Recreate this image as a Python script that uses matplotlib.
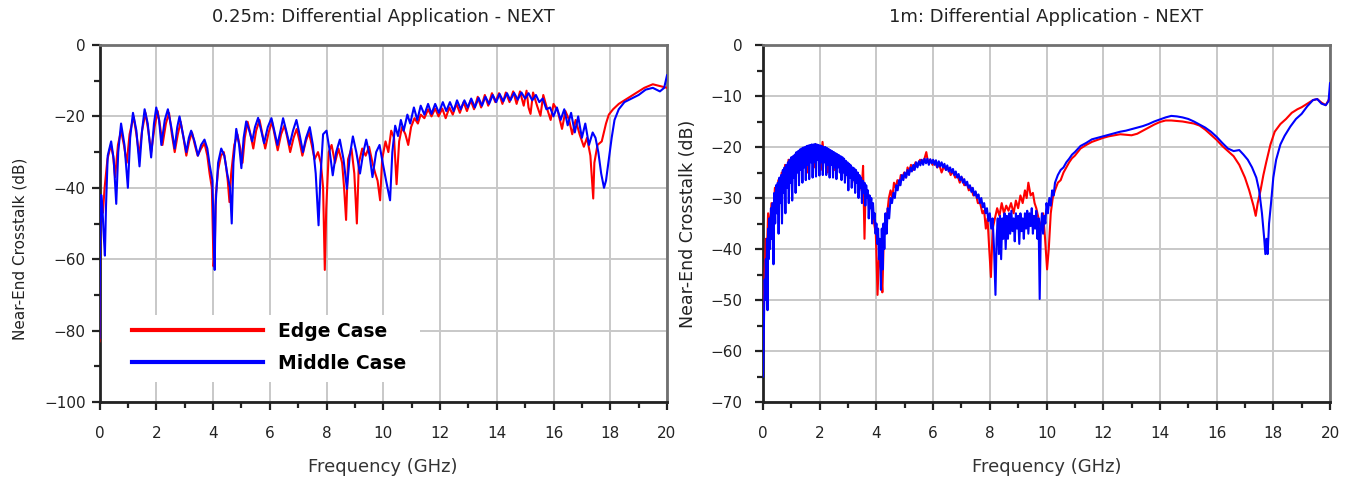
import matplotlib
matplotlib.use("Agg")
import matplotlib.pyplot as plt
from matplotlib.ticker import MultipleLocator
from matplotlib.patches import Rectangle

# ---------------- data (frequency GHz, NEXT dB) ----------------
left_titles = "0.25m: Differential Application - NEXT"
right_titles = "1m: Differential Application - NEXT"
series_names = ["Edge Case", "Middle Case"]
series_colors = ["#ff0000", "#0000ff"]

left_edge = [
(0.00,-83),(0.03,-48),(0.08,-44),(0.12,-47),(0.18,-40),(0.28,-32),(0.40,-28),(0.48,-31),(0.55,-37),(0.65,-28),
(0.76,-24),(0.86,-28),(0.96,-33),(1.06,-25),(1.20,-20),(1.30,-25),(1.40,-31),(1.50,-24),(1.62,-19),(1.72,-24),
(1.82,-30),(1.94,-23),(2.05,-18.5),(2.14,-23),(2.22,-28),(2.34,-22),(2.45,-19),(2.55,-25),(2.65,-30),(2.76,-25),
(2.86,-21.5),(2.96,-26),(3.06,-31),(3.16,-27),(3.26,-24.5),(3.36,-28),(3.46,-31),(3.58,-29),(3.70,-27.5),(3.80,-31),
(3.88,-36),(3.96,-40),(4.02,-62),(4.06,-58),(4.10,-42),(4.18,-35),(4.28,-31),(4.38,-30),(4.46,-34),(4.52,-38),
(4.58,-44),(4.64,-36),(4.75,-28),(4.86,-25),(4.96,-29),(5.04,-33),(5.12,-26),(5.22,-21.5),(5.32,-25),(5.42,-29),
(5.52,-24),(5.64,-21),(5.74,-25),(5.84,-29),(5.96,-24.5),(6.08,-21.5),(6.18,-25.5),(6.28,-29.5),(6.40,-25),(6.52,-22.5),
(6.62,-26),(6.72,-30),(6.84,-26),(6.95,-23.5),(7.05,-27),(7.15,-31),(7.27,-27),(7.38,-24.5),(7.48,-28),(7.58,-32),
(7.70,-30),(7.80,-33),(7.88,-40),(7.94,-63),(7.99,-46),(8.08,-30),(8.18,-28),(8.30,-33),(8.42,-29),(8.55,-33),
(8.62,-40),(8.69,-49),(8.76,-32),(8.88,-29),(8.98,-36),(9.07,-50),(9.14,-33),(9.26,-29),(9.38,-31),(9.50,-28.5),
(9.62,-33),(9.72,-36),(9.80,-38),(9.89,-43.5),(9.96,-32),(10.08,-27),(10.18,-30),(10.28,-24),(10.38,-26),(10.47,-39),
(10.56,-27),(10.66,-23),(10.78,-25),(10.88,-28),(10.98,-23),(11.10,-20.5),(11.22,-22),(11.32,-19.5),(11.45,-20.5),(11.58,-18),
(11.70,-20),(11.83,-17.8),(11.95,-20),(12.08,-17.8),(12.20,-20.5),(12.33,-17.5),(12.45,-19.5),(12.58,-16.5),(12.70,-19),(12.83,-16),
(12.95,-18.5),(13.08,-15.5),(13.20,-18),(13.33,-14.5),(13.45,-17.5),(13.58,-14),(13.70,-17),(13.83,-13.5),(13.95,-16),
(14.08,-13.5),(14.20,-16.5),(14.32,-13.3),(14.45,-16),(14.58,-13),(14.70,-16.5),(14.82,-13),(14.95,-17),(15.05,-12.8),
(15.12,-17.5),(15.19,-19.3),(15.28,-13.3),(15.42,-17),(15.54,-19.8),(15.64,-14),(15.78,-18),(15.90,-21),(16.00,-16.5),
(16.15,-18.5),(16.30,-23.5),(16.42,-18.5),(16.55,-21),(16.66,-25),(16.78,-21),(16.92,-25),(17.07,-28.5),(17.18,-26),
(17.30,-31),(17.36,-38),(17.40,-43),(17.44,-33),(17.55,-28),(17.70,-27),(17.85,-22),(17.95,-19.5),(18.10,-18),
(18.30,-16.5),(18.60,-15),(18.90,-13.5),(19.20,-12),(19.50,-11),(19.75,-11.5),(20.00,-12)]

left_middle = [
(0.00,-82),(0.02,-55),(0.06,-42),(0.10,-45),(0.14,-52),(0.19,-59),(0.23,-45),(0.29,-31),(0.41,-27),(0.50,-32),
(0.59,-44.5),(0.66,-30),(0.76,-22),(0.88,-28),(1.00,-40),(1.08,-26),(1.18,-19),(1.30,-24),(1.41,-34),(1.50,-24),
(1.59,-18),(1.70,-22),(1.82,-31.5),(1.92,-22),(2.00,-17.5),(2.10,-21),(2.18,-28),(2.30,-21),(2.41,-18),(2.53,-23),
(2.65,-29),(2.74,-23),(2.82,-20),(2.94,-25),(3.06,-30),(3.15,-26),(3.23,-24),(3.35,-27),(3.47,-31),(3.58,-28),
(3.70,-26.5),(3.80,-29),(3.88,-33.5),(3.98,-38),(4.03,-55),(4.06,-63),(4.09,-45),(4.18,-33),(4.29,-29),(4.40,-31),
(4.50,-36),(4.60,-40),(4.66,-50),(4.72,-33),(4.82,-23.5),(4.92,-28),(5.00,-34.5),(5.08,-26),(5.17,-21.4),(5.28,-24),
(5.38,-27),(5.48,-23),(5.59,-20.4),(5.70,-24),(5.80,-27.5),(5.93,-23),(6.06,-20.5),(6.16,-24),(6.27,-28),(6.38,-24),
(6.47,-20.5),(6.58,-24),(6.70,-28),(6.82,-24),(6.94,-21),(7.05,-25),(7.17,-30),(7.28,-26),(7.41,-23),(7.52,-28),
(7.62,-36),(7.72,-50.5),(7.78,-38),(7.88,-25),(8.00,-24),(8.10,-29),(8.22,-36.5),(8.34,-30),(8.47,-26.5),(8.60,-32),
(8.72,-40.3),(8.82,-31),(8.93,-25.6),(9.05,-30),(9.18,-36),(9.30,-30),(9.40,-26.5),(9.52,-31),(9.62,-37),(9.75,-30),
(9.87,-28),(9.98,-33),(10.10,-38),(10.24,-43.5),(10.32,-30),(10.42,-22.6),(10.52,-25.5),(10.62,-21),(10.72,-24),(10.85,-19.5),
(10.95,-22),(11.08,-17.5),(11.20,-21),(11.32,-17),(11.45,-19.5),(11.58,-16.5),(11.70,-19.3),(11.83,-16.5),(11.96,-19),(12.10,-16),
(12.22,-18.5),(12.35,-16),(12.48,-18.5),(12.60,-15.5),(12.73,-18),(12.86,-15.5),(12.98,-17.5),(13.10,-15),(13.23,-17.5),(13.36,-14.8),
(13.48,-17),(13.60,-14.5),(13.73,-16.5),(13.86,-14),(13.98,-16),(14.10,-13.7),(14.23,-15.8),(14.36,-13.5),(14.48,-15.5),(14.61,-13.4),
(14.74,-15.3),(14.87,-13.3),(15.00,-15),(15.12,-13.5),(15.25,-15.5),(15.38,-14),(15.50,-16),(15.62,-15),(15.75,-18),(15.88,-17.5),
(16.00,-20),(16.12,-17.5),(16.25,-21),(16.38,-18),(16.50,-22.5),(16.62,-19),(16.75,-24.5),(16.87,-20),(17.00,-26),(17.12,-22),
(17.25,-28),(17.38,-24.5),(17.48,-26),(17.58,-30),(17.68,-36),(17.78,-40),(17.85,-38),(17.95,-32),(18.05,-26),(18.15,-21),
(18.30,-18),(18.50,-16),(18.75,-15),(19.00,-14),(19.25,-12.5),(19.50,-12),(19.75,-13),(19.90,-12),(20.00,-8.5)]

right_edge = [
(0.00,-60),(0.03,-50),(0.06,-44),(0.10,-38),(0.14,-40),(0.18,-33),(0.24,-36),(0.30,-31),(0.36,-34),(0.42,-28),
(0.48,-31),(0.54,-26.5),(0.60,-29),(0.66,-25),(0.72,-28),(0.78,-23.5),(0.84,-26.5),(0.90,-22.5),(0.96,-26),(1.02,-22),
(1.08,-25),(1.14,-21.5),(1.20,-24.5),(1.26,-21),(1.32,-23.5),(1.38,-20.5),(1.44,-24),(1.50,-20.5),(1.56,-25),(1.62,-20),
(1.68,-22.5),(1.74,-20),(1.80,-24),(1.86,-19.5),(1.92,-22),(1.98,-19.8),(2.04,-24.5),(2.10,-19),(2.16,-22.5),(2.22,-20.5),
(2.28,-25),(2.34,-21),(2.40,-23),(2.46,-21.3),(2.52,-24.5),(2.58,-21.8),(2.64,-23.5),(2.70,-22),(2.76,-25),(2.82,-22.5),
(2.88,-24),(2.94,-23),(3.00,-26),(3.06,-23.5),(3.12,-25),(3.18,-24.3),(3.24,-27),(3.30,-25),(3.36,-26.5),(3.42,-26),
(3.48,-28.5),(3.53,-23.7),(3.58,-38),(3.62,-28),(3.68,-30),(3.74,-29.5),(3.80,-32),(3.86,-32),(3.92,-35),(3.98,-37),
(4.04,-49),(4.10,-40),(4.16,-44),(4.21,-48.5),(4.26,-38),(4.32,-34),(4.38,-33),(4.44,-30),(4.50,-28.5),(4.56,-30),
(4.62,-27),(4.68,-28),(4.74,-26.5),(4.80,-27.5),(4.86,-25.5),(4.92,-26),(4.98,-25),(5.04,-26),(5.10,-24),(5.16,-25),
(5.22,-23.5),(5.30,-24.5),(5.38,-23),(5.46,-23.5),(5.54,-22.5),(5.62,-23),(5.70,-22.2),(5.76,-21),(5.82,-23),(5.90,-22.5),
(5.98,-23.5),(6.06,-22.8),(6.14,-24),(6.22,-23.5),(6.30,-25),(6.38,-23.8),(6.46,-24.5),(6.54,-24.2),(6.62,-25.5),(6.70,-24.8),
(6.78,-26),(6.86,-25.5),(6.94,-27),(7.02,-26),(7.10,-27.5),(7.18,-27),(7.26,-28.5),(7.34,-28),(7.42,-29.5),(7.50,-29),
(7.58,-31),(7.66,-31),(7.74,-33),(7.80,-32.5),(7.86,-36),(7.92,-34),(7.98,-40),(8.04,-45.5),(8.10,-36),(8.18,-34),
(8.26,-32),(8.34,-33.5),(8.42,-31),(8.50,-33),(8.58,-31.5),(8.66,-32.5),(8.75,-31),(8.84,-33),(8.92,-30.5),(9.00,-32),
(9.08,-29.5),(9.16,-31),(9.24,-28.5),(9.30,-30),(9.36,-27),(9.44,-29.5),(9.52,-29),(9.58,-31),(9.64,-32),(9.72,-34),
(9.80,-36),(9.88,-33),(9.95,-38),(10.02,-44),(10.08,-40),(10.15,-33),(10.22,-30),(10.30,-28.5),(10.40,-27),(10.50,-26.5),
(10.60,-25),(10.70,-24),(10.80,-23),(10.90,-22.2),(11.00,-21.7),(11.20,-20.3),(11.40,-19.6),(11.60,-19),(11.80,-18.6),(12.00,-18.2),
(12.20,-17.9),(12.40,-17.7),(12.60,-17.5),(12.80,-17.6),(13.00,-17.7),(13.20,-17.4),(13.40,-16.8),(13.60,-16.2),(13.80,-15.6),(14.00,-15.1),
(14.20,-14.8),(14.40,-14.8),(14.60,-14.9),(14.80,-15),(15.00,-15.2),(15.20,-15.4),(15.40,-15.8),(15.60,-16.6),(15.80,-17.6),(16.00,-18.6),
(16.20,-19.8),(16.40,-20.8),(16.60,-21.8),(16.80,-23.5),(17.00,-26),(17.15,-28.5),(17.30,-31.5),(17.38,-33.5),(17.45,-31),(17.55,-28.5),
(17.65,-25.5),(17.75,-23),(17.90,-19.5),(18.05,-17),(18.25,-15.5),(18.45,-14.5),(18.65,-13.3),(18.85,-12.6),(19.00,-12.2),(19.20,-11.5),
(19.40,-10.8),(19.55,-10.6),(19.70,-11.3),(19.85,-11.8),(20.00,-10.3)]

right_middle = [
(0.00,-65),(0.02,-60),(0.04,-52),(0.06,-46),(0.08,-50),(0.10,-42),(0.12,-47),(0.14,-38),(0.16,-52),(0.18,-36),
(0.20,-42),(0.22,-34),(0.25,-40),(0.28,-32),(0.31,-38),(0.34,-31),(0.37,-43),(0.40,-29),(0.43,-35),(0.46,-27.5),
(0.49,-33),(0.52,-27),(0.55,-37),(0.58,-26),(0.61,-31),(0.64,-25.5),(0.67,-35),(0.70,-24.5),(0.73,-29),(0.76,-24),
(0.79,-33),(0.82,-23.5),(0.85,-28),(0.88,-23),(0.91,-31),(0.94,-22.5),(0.97,-27),(1.00,-22),(1.03,-30.5),(1.06,-21.8),
(1.09,-26),(1.12,-21.5),(1.15,-29),(1.18,-21),(1.21,-25),(1.24,-20.8),(1.27,-27.5),(1.30,-20.5),(1.33,-24.5),(1.36,-20.3),
(1.39,-27),(1.42,-20.1),(1.45,-24),(1.48,-20),(1.51,-26.5),(1.54,-19.8),(1.57,-23.5),(1.60,-19.7),(1.63,-26.3),(1.66,-19.6),
(1.69,-23),(1.72,-19.5),(1.75,-26),(1.78,-19.5),(1.81,-23),(1.84,-19.4),(1.87,-25.8),(1.90,-19.5),(1.93,-22.5),(1.96,-19.6),
(1.99,-25.6),(2.02,-19.7),(2.05,-23),(2.08,-19.8),(2.11,-25.5),(2.14,-20),(2.17,-23),(2.20,-20),(2.23,-25.5),(2.26,-20.2),
(2.29,-23.5),(2.32,-20.4),(2.35,-26),(2.38,-20.6),(2.41,-23.5),(2.44,-20.8),(2.47,-26),(2.50,-21),(2.53,-24),(2.56,-21.2),
(2.59,-26.3),(2.62,-21.4),(2.65,-24),(2.68,-21.6),(2.71,-25),(2.74,-21.8),(2.77,-26.5),(2.80,-22),(2.83,-25),(2.86,-22.3),
(2.89,-27),(2.92,-22.7),(2.95,-25.5),(2.98,-23),(3.01,-28.5),(3.04,-23.3),(3.07,-26),(3.10,-23.6),(3.13,-28),(3.16,-24),
(3.19,-26.5),(3.22,-24.2),(3.25,-29),(3.28,-24.5),(3.31,-27),(3.34,-25),(3.37,-30),(3.40,-25.5),(3.43,-28),(3.46,-26),
(3.49,-31),(3.52,-26.6),(3.55,-29),(3.58,-27),(3.61,-31.5),(3.64,-27.5),(3.67,-30),(3.70,-28.5),(3.73,-34),(3.76,-29.5),
(3.79,-32),(3.82,-30),(3.85,-35),(3.88,-31),(3.91,-34),(3.94,-33),(3.97,-37),(4.00,-35),(4.03,-39),(4.06,-36),
(4.09,-42),(4.12,-38),(4.16,-48),(4.19,-36),(4.22,-44),(4.25,-35),(4.28,-40),(4.32,-33),(4.36,-37),(4.40,-32),
(4.45,-34),(4.50,-30),(4.55,-31),(4.60,-29),(4.65,-30),(4.70,-27.5),(4.75,-28.5),(4.80,-26.5),(4.85,-27.5),(4.90,-25.5),
(4.95,-26.5),(5.00,-25),(5.05,-26),(5.10,-24.5),(5.15,-25.5),(5.20,-24),(5.25,-24.8),(5.30,-23.5),(5.35,-24.5),(5.40,-23),
(5.45,-24),(5.50,-22.8),(5.55,-23.6),(5.60,-22.5),(5.65,-23.5),(5.70,-22.3),(5.75,-23.2),(5.80,-22.3),(5.85,-23.5),(5.90,-22.4),
(5.95,-23.2),(6.00,-22.5),(6.05,-23.5),(6.10,-22.6),(6.15,-24),(6.20,-22.8),(6.25,-23.8),(6.30,-23),(6.35,-24),(6.40,-23.3),
(6.45,-24.5),(6.50,-23.6),(6.55,-24.8),(6.60,-24),(6.65,-25),(6.70,-24.3),(6.75,-25.5),(6.80,-24.8),(6.85,-26),(6.90,-25.3),
(6.95,-26.5),(7.00,-25.8),(7.05,-27),(7.10,-26.3),(7.15,-27.5),(7.20,-26.8),(7.25,-28),(7.30,-27.5),(7.35,-28.8),(7.40,-28),
(7.45,-29.5),(7.50,-28.7),(7.55,-30),(7.60,-29.3),(7.65,-31),(7.70,-30),(7.75,-31.8),(7.80,-31),(7.85,-33),(7.90,-32),
(7.95,-34.5),(8.00,-33),(8.05,-36),(8.10,-34),(8.15,-40),(8.20,-49),(8.24,-38),(8.28,-34),(8.32,-41),(8.36,-33.5),
(8.40,-42),(8.44,-34),(8.48,-38),(8.52,-33),(8.56,-40),(8.60,-33.5),(8.64,-38),(8.68,-33),(8.72,-37),(8.76,-32.5),
(8.80,-36.5),(8.84,-34),(8.88,-38.5),(8.92,-33),(8.96,-36),(9.00,-33.5),(9.04,-39),(9.08,-33),(9.12,-36.5),(9.16,-34),
(9.20,-38),(9.24,-33),(9.28,-36),(9.32,-32.5),(9.36,-37),(9.40,-33),(9.44,-35.5),(9.48,-32),(9.52,-37),(9.56,-33.5),
(9.60,-36),(9.64,-32.5),(9.68,-38),(9.72,-34),(9.76,-49.8),(9.80,-36),(9.84,-33),(9.88,-37),(9.92,-33.5),(9.96,-35),
(10.00,-31),(10.05,-33),(10.10,-30),(10.15,-31.5),(10.20,-28.5),(10.25,-29.5),(10.30,-27),(10.40,-25.5),(10.50,-24.5),(10.60,-24),
(10.70,-23),(10.80,-22.3),(10.90,-21.5),(11.00,-21),(11.20,-19.8),(11.40,-19.2),(11.60,-18.5),(11.80,-18.2),(12.00,-17.9),(12.20,-17.6),
(12.40,-17.3),(12.60,-17),(12.80,-16.8),(13.00,-16.5),(13.20,-16.2),(13.40,-15.9),(13.60,-15.5),(13.80,-15),(14.00,-14.6),(14.20,-14.2),
(14.40,-13.9),(14.60,-14),(14.80,-14.2),(15.00,-14.5),(15.20,-15),(15.40,-15.6),(15.60,-16.2),(15.80,-17),(16.00,-18),(16.20,-19.2),
(16.40,-20.3),(16.60,-20.8),(16.80,-20.6),(16.95,-21.5),(17.10,-22.5),(17.25,-24),(17.40,-26),(17.50,-28.5),(17.60,-33),(17.68,-38),
(17.72,-41),(17.76,-38),(17.80,-41),(17.85,-35),(17.92,-31),(18.00,-26),(18.10,-22.5),(18.25,-19.5),(18.40,-17.8),(18.60,-16),
(18.80,-14.5),(19.00,-13.5),(19.20,-12),(19.40,-10.8),(19.55,-10.6),(19.70,-11.5),(19.85,-11.8),(19.95,-11),(20.00,-7.5)]

# ---------------- figure ----------------
plt.rcParams['font.family'] = ['DejaVu Sans']
W, H = 1348, 480
fig = plt.figure(figsize=(W / 100, H / 100), dpi=100)
axL = fig.add_axes([99.5 / W, 1 - 402 / H, 567.5 / W, 357 / H])
axR = fig.add_axes([763 / W, 1 - 402 / H, 567 / W, 357 / H])


def style(ax, ylo, ymaj, ymin_step, title, ypad, ylab_x, ylab_y, ylab_size):
    ax.set_xlim(0, 20)
    ax.set_ylim(ylo, 0)
    ax.xaxis.set_major_locator(MultipleLocator(2))
    ax.xaxis.set_minor_locator(MultipleLocator(1))
    ax.yaxis.set_major_locator(MultipleLocator(ymaj))
    ax.yaxis.set_minor_locator(MultipleLocator(ymin_step))
    ax.grid(True, which='major', color='#c8c8c8', lw=1.4)
    ax.set_axisbelow(True)
    ax.tick_params(which='major', direction='out', length=6, width=1.6,
                   labelsize=11, colors='#222222')
    ax.tick_params(which='minor', direction='out', length=4, width=1.6,
                   colors='#222222')
    ax.tick_params(axis='x', which='major', pad=11)
    ax.tick_params(axis='y', which='major', pad=ypad)
    for s in ['top', 'right']:
        ax.spines[s].set_color('#707070')
        ax.spines[s].set_linewidth(2)
    for s in ['left', 'bottom']:
        ax.spines[s].set_color('#222222')
        ax.spines[s].set_linewidth(2)
    ax.text(0.5, 1 + 28 / 357, title, transform=ax.transAxes, ha='center',
            va='center', fontsize=13, color='#222222')
    ax.set_xlabel('Frequency (GHz)', fontsize=13, color='#333333')
    ax.xaxis.set_label_coords(0.5, -65 / 357)
    ax.xaxis.label.set_va('center')
    ax.set_ylabel('Near-End Crosstalk (dB)', fontsize=ylab_size, color='#222222')
    ax.yaxis.set_label_coords(ylab_x, ylab_y)
    ax.yaxis.label.set_va('center')


style(axL, -100, 20, 10, left_titles, 4, -0.14, 0.43, 11)
style(axR, -70, 10, 5, right_titles, 9, -0.132, 0.50, 12.5)

for ax, sets in ((axL, (left_edge, left_middle)), (axR, (right_edge, right_middle))):
    for data, name, col in zip(sets, series_names, series_colors):
        f, db = zip(*data)
        ax.plot(f, db, color=col, lw=1.5, label=name, zorder=3, clip_on=True)

# legend background box (white, hides grid) and legend
axL.add_patch(Rectangle((0.0, (402 - 382) / 357), (420 - 99.5) / 567.5, 67 / 357,
                        transform=axL.transAxes, facecolor='white',
                        edgecolor='none', zorder=1.5))
leg = axL.legend(loc='upper left', bbox_to_anchor=((131.7 - 99.5) / 567.5, (402 - 322) / 357),
                 frameon=False, borderpad=0, borderaxespad=0, handlelength=7.0,
                 handletextpad=0.8, labelspacing=0.68,
                 prop={'weight': 'bold', 'size': 13.5})
for line in leg.get_lines():
    line.set_linewidth(3)

fig.savefig('out.png', dpi=100)
